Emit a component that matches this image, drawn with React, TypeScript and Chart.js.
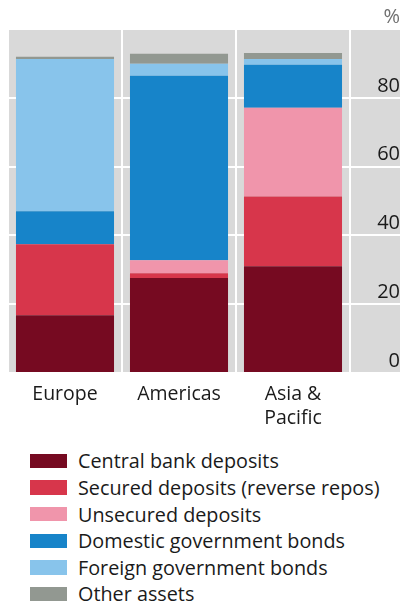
import React, { useEffect, useRef } from "react";
import { Chart, registerables } from "chart.js";

Chart.register(...registerables);

const categories: (string | string[])[] = ["Europe", "Americas", ["Asia &", "Pacific"]];

const centralBank = [16.8, 27.6, 31.0];
const securedDeposits = [20.6, 1.4, 20.3];
const unsecuredDeposits = [0, 3.8, 25.8];
const domesticBonds = [9.6, 53.6, 12.5];
const foreignBonds = [44.3, 3.5, 1.7];
const otherAssets = [0.6, 2.9, 1.7];

const seriesNames = [
  "Central bank deposits",
  "Secured deposits (reverse repos)",
  "Unsecured deposits",
  "Domestic government bonds",
  "Foreign government bonds",
  "Other assets",
];
const seriesColors = ["#760a21", "#d7364b", "#f095ab", "#1784c9", "#88c4eb", "#929891"];
const seriesValues = [centralBank, securedDeposits, unsecuredDeposits, domesticBonds, foreignBonds, otherAssets];

const yTicks = [0, 20, 40, 60, 80, 100];
const unitLabel = "%";

const FONT = "'Open Sans', 'Noto Sans', sans-serif";
const BG = "#d9d9d9";

const bgPlugin = {
  id: "bgPlugin",
  beforeDraw(chart: any) {
    const { ctx, chartArea } = chart;
    const y = chart.scales.y;
    ctx.save();
    ctx.fillStyle = BG;
    ctx.fillRect(chartArea.left, chartArea.top, chart.width - chartArea.left, chartArea.bottom - chartArea.top);
    ctx.strokeStyle = "#ffffff";
    ctx.lineWidth = 2;
    yTicks.forEach((v) => {
      const py = Math.round(y.getPixelForValue(v));
      ctx.beginPath();
      ctx.moveTo(chartArea.right, py);
      ctx.lineTo(chart.width, py);
      ctx.stroke();
    });
    ctx.restore();
  },
};

export default function App() {
  const ref = useRef<HTMLCanvasElement | null>(null);

  useEffect(() => {
    if (!ref.current) return;
    const chart = new Chart(ref.current, {
      type: "bar",
      data: {
        labels: categories as any,
        datasets: seriesNames.map((name, i) => ({
          label: name,
          data: seriesValues[i],
          backgroundColor: seriesColors[i],
          borderWidth: 0,
          barPercentage: 0.86,
          categoryPercentage: 1,
        })),
      },
      plugins: [bgPlugin],
      options: {
        animation: false,
        responsive: true,
        maintainAspectRatio: false,
        layout: { padding: { left: 8, top: 29, right: 0, bottom: 0 } },
        plugins: {
          legend: { display: false },
          tooltip: { enabled: false },
        },
        scales: {
          x: {
            stacked: true,
            grid: { color: "#ffffff", lineWidth: 2, drawTicks: false, offset: true },
            border: { display: false },
            ticks: {
              color: "#1a1a1a",
              padding: 10,
              font: { family: FONT, size: 19.5, lineHeight: 1.2 },
            },
            afterFit(scale: any) {
              scale.height = 440 - 373;
            },
          },
          y: {
            stacked: true,
            position: "right",
            min: 0,
            max: 100,
            afterBuildTicks(scale: any) {
              scale.ticks = yTicks.map((v) => ({ value: v }));
            },
            grid: { color: "#ffffff", lineWidth: 2, drawTicks: true, tickLength: 24, tickColor: "#ffffff" },
            border: { display: false },
            ticks: {
              crossAlign: "far",
              padding: 0,
              labelOffset: -12,
              color: (c: any) => (c.tick && c.tick.value === 100 ? "#707070" : "#1a1a1a"),
              font: { family: FONT, size: 20 },
              callback: (v: any) => (v === 100 ? unitLabel : String(v)),
            },
            afterFit(scale: any) {
              scale.width = 50;
            },
          },
        },
      },
    });
    return () => chart.destroy();
  }, []);

  return (
    <div style={{ position: "absolute", left: 0, top: 0, width: 400, height: 607, background: "#fff" }}>
      <div style={{ position: "absolute", left: 0, top: 0, width: 400, height: 440 }}>
        <canvas ref={ref} />
      </div>
      <div style={{ position: "absolute", left: 30, top: 447.7, fontFamily: FONT, fontSize: 19.8, color: "#1a1a1a" }}>
        {seriesNames.map((name, i) => (
          <div key={name} style={{ display: "flex", alignItems: "center", height: 26.6, whiteSpace: "nowrap" }}>
            <span style={{ display: "inline-block", width: 37, height: 14.5, background: seriesColors[i], marginRight: 11 }} />
            <span>{name}</span>
          </div>
        ))}
      </div>
    </div>
  );
}
